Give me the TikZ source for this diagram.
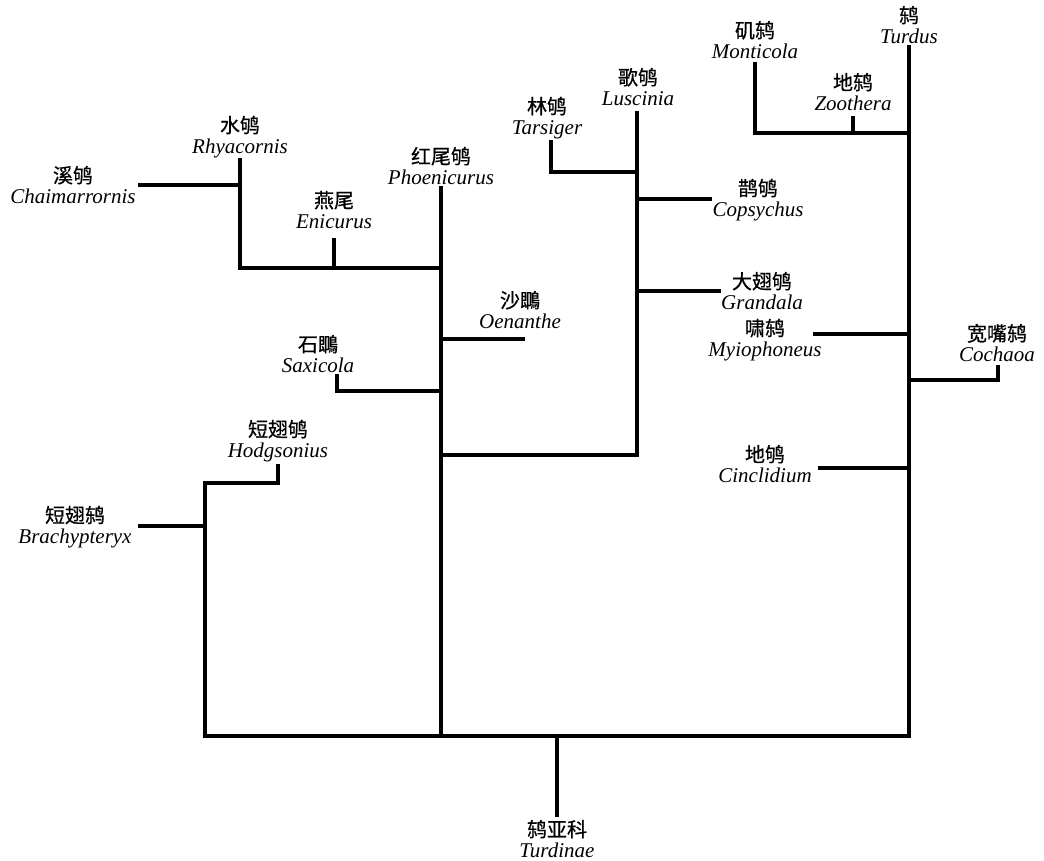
\documentclass[tikz,border=0pt]{standalone}
\usepackage{fontspec}
\setmainfont{Liberation Serif}
\newfontfamily\cjk[FakeBold=0.6]{Noto Sans CJK SC}
\begin{document}
\begin{tikzpicture}[x=1pt,y=-1pt,
  br/.style={line width=4pt, line join=miter, line cap=rect},
  lab/.style={align=center, inner sep=0pt, font=\fontsize{21}{21}\selectfont}]
\useasboundingbox (0,0) rectangle (1044,861);
\newcommand{\tx}[2]{{\cjk\fontsize{20}{21}\selectfont #1}\\\textit{#2}}
% labels
\node[lab] (chai) at (73,185) {\tx{溪鸲}{Chaimarrornis}};
\node[lab] (rhya) at (240,137) {\tx{水鸲}{Rhyacornis}};
\node[lab] (enic) at (334,210) {\tx{燕尾}{Enicurus}};
\node[lab] (phoe) at (441,166) {\tx{红尾鸲}{Phoenicurus}};
\node[lab] (tars) at (547,118) {\tx{林鸲}{Tarsiger}};
\node[lab] (lusc) at (638,87) {\tx{歌鸲}{Luscinia}};
\node[lab] (mont) at (755,40) {\tx{矶鸫}{Monticola}};
\node[lab] (zoot) at (853,92) {\tx{地鸫}{Zoothera}};
\node[lab] (turd) at (909,25) {\tx{鸫}{Turdus}};
\node[lab] (cops) at (758,200) {\tx{鹊鸲}{Copsychus}};
\node[lab] (gran) at (762,291) {\tx{大翅鸲}{Grandala}};
\node[lab] (oena) at (520,310) {\tx{沙䳭}{Oenanthe}};
\node[lab] (saxi) at (318,354) {\tx{石䳭}{Saxicola}};
\node[lab] (myio) at (765,340) {\tx{啸鸫}{Myiophoneus}};
\node[lab] (coch) at (997,343) {\tx{宽嘴鸫}{Cochaoa}};
\node[lab] (cinc) at (765,464) {\tx{地鸲}{Cinclidium}};
\node[lab] (hodg) at (278,441) {\tx{短翅鸲}{Hodgsonius}};
\node[lab] (brac) at (75,527) {\tx{短翅鸫}{Brachypteryx}};
\node[lab] (root) at (557,839) {\tx{鸫亚科}{Turdinae}};
% coordinates
\coordinate (r0) at (557,815);
\coordinate (r1) at (557,736);
\coordinate (bL) at (205,736);
\coordinate (bM) at (441,736);
\coordinate (bR) at (909,736);
% left clade
\coordinate (lTop) at (205,483);
\coordinate (hC) at (278,483);
\coordinate (hE) at (278,466);
\coordinate (brE) at (140,526);
\coordinate (brJ) at (205,526);
% middle clade
\coordinate (mTop) at (441,188);
\coordinate (rhJ) at (441,268);
\coordinate (rhC) at (240,268);
\coordinate (rhE) at (240,160);
\coordinate (chE) at (140,185);
\coordinate (chJ) at (240,185);
\coordinate (enJ) at (334,268);
\coordinate (enE) at (334,240);
\coordinate (oeJ) at (441,339);
\coordinate (oeE) at (523,339);
\coordinate (saJ) at (441,391);
\coordinate (saC) at (337,391);
\coordinate (saE) at (337,376);
\coordinate (luJ) at (441,455);
\coordinate (luC) at (637,455);
\coordinate (luE) at (637,113);
\coordinate (taJ) at (637,172);
\coordinate (taC) at (551,172);
\coordinate (taE) at (551,142);
\coordinate (coJ) at (637,199);
\coordinate (coE) at (710,199);
\coordinate (grJ) at (637,291);
\coordinate (grE) at (719,291);
% right clade
\coordinate (tuE) at (909,47);
\coordinate (moJ) at (909,133);
\coordinate (moC) at (755,133);
\coordinate (moE) at (755,64);
\coordinate (zoJ) at (853,133);
\coordinate (zoE) at (853,118);
\coordinate (myE) at (815,334);
\coordinate (myJ) at (909,334);
\coordinate (ccJ) at (909,380);
\coordinate (ccC) at (998,380);
\coordinate (ccE) at (998,367);
\coordinate (ciE) at (820,468);
\coordinate (ciJ) at (909,468);
% branches
\draw[br] (r0) -- (r1);
\draw[br] (bL) -- (bR);
\draw[br] (bL) -- (lTop) -- (hC) -- (hE);
\draw[br] (brE) -- (brJ);
\draw[br] (bM) -- (mTop);
\draw[br] (rhJ) -- (rhC) -- (rhE);
\draw[br] (chE) -- (chJ);
\draw[br] (enJ) -- (enE);
\draw[br] (oeJ) -- (oeE);
\draw[br] (saJ) -- (saC) -- (saE);
\draw[br] (luJ) -- (luC) -- (luE);
\draw[br] (taJ) -- (taC) -- (taE);
\draw[br] (coJ) -- (coE);
\draw[br] (grJ) -- (grE);
\draw[br] (bR) -- (tuE);
\draw[br] (moJ) -- (moC) -- (moE);
\draw[br] (zoJ) -- (zoE);
\draw[br] (myE) -- (myJ);
\draw[br] (ccJ) -- (ccC) -- (ccE);
\draw[br] (ciE) -- (ciJ);
\end{tikzpicture}
\end{document}
